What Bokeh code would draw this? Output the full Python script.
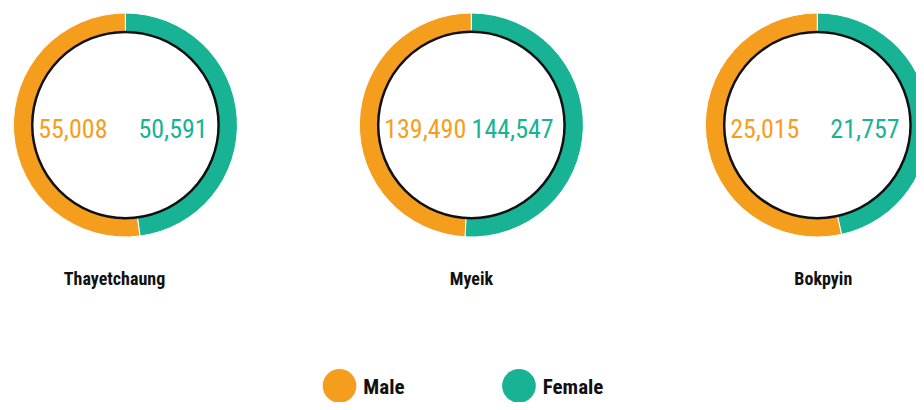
from bokeh.plotting import figure
from bokeh.models import ColumnDataSource, Range1d
from bokeh.core.properties import value
from bokeh.embed import file_html
from bokeh.resources import INLINE
import math

districts = ["Thayetchaung", "Myeik", "Bokpyin"]
male = [55008, 139490, 25015]
female = [50591, 144547, 21757]
series = ["Male", "Female"]
colors = ["#F59E1E", "#17B394"]

W, H = 916, 402
RW, RH = 924, 410
FONT = "'Roboto Condensed', 'DejaVu Sans Condensed', 'Liberation Sans Narrow', Roboto, sans-serif"

p = figure(width=W, height=H, output_backend="svg", toolbar_location=None,
           x_range=Range1d(0, W), y_range=Range1d(0, H), min_border=0)
p.axis.visible = False
p.grid.visible = False
p.outline_line_color = None
p.background_fill_color = "white"

KX, KY = W / RW, H / RH

def fx(x):
    return x * KX

def fy(y):
    return H - y * KY

cx0, step, cy = 126, 349, fy(127)
R_OUT, R_IN = 113 * KX, 94 * KX

centers = [fx(cx0 + i * step) for i in range(len(districts))]

xs, starts, ends, cols = [], [], [], []
for cx, m, f in zip(centers, male, female):
    frac = m / (m + f)
    a0 = math.pi / 2
    a1 = a0 + 2 * math.pi * frac
    xs += [cx, cx]
    starts += [a0, a1]
    ends += [a1, a0 + 2 * math.pi]
    cols += colors

ring = ColumnDataSource(dict(x=xs, y=[cy] * len(xs), start=starts, end=ends, color=cols))
p.annular_wedge(x="x", y="y", inner_radius=R_IN - 1, outer_radius=R_OUT, start_angle="start",
                end_angle="end", fill_color="color", line_color="white", line_width=1,
                source=ring)

p.circle(x=centers, y=[cy] * len(centers), radius=R_IN, fill_color="white",
         line_color="#111111", line_width=2.5)

# numbers
p.text(x=[c - fx(88) for c in centers], y=[fy(131)] * len(centers),
       text=[f"{v:,}" for v in male], text_color=colors[0], text_align="left",
       text_baseline="middle", text_font=value(FONT), text_font_size="26px")
p.text(x=[c + fx(83) for c in centers], y=[fy(131)] * len(centers),
       text=[f"{v:,}" for v in female], text_color=colors[1], text_align="right",
       text_baseline="middle", text_font=value(FONT), text_font_size="26px")

# district names
name_offsets = [-11, 0, 6]
p.text(x=[c + fx(o) for c, o in zip(centers, name_offsets)], y=[fy(284)] * len(centers),
       text=districts, text_color="#111111", text_align="center",
       text_baseline="middle", text_font=value(FONT), text_font_size="18px",
       text_font_style="bold")

# legend
lx = [fx(342), fx(523)]
p.circle(x=lx, y=[fy(393)] * 2, radius=17 * KX, fill_color=colors, line_color=None)
p.text(x=[x + fx(24) for x in lx], y=[fy(394)] * 2, text=series, text_color="#111111",
       text_align="left", text_baseline="middle", text_font=value(FONT),
       text_font_size="21px", text_font_style="bold")

open("out.html", "w").write(file_html(p, INLINE))
